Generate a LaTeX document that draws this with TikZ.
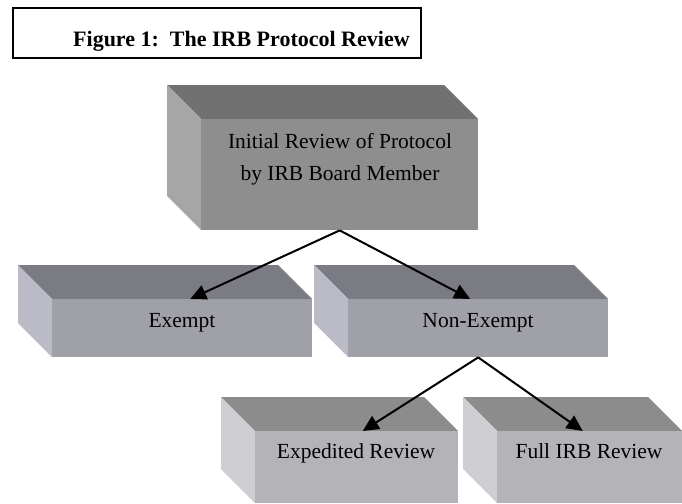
\documentclass[tikz,border=0pt]{standalone}
\usepackage{fontspec}
\setmainfont{Liberation Serif}
\usetikzlibrary{arrows.meta,positioning}

\definecolor{revtop}{HTML}{717171}
\definecolor{revside}{HTML}{A6A6A6}
\definecolor{revfront}{HTML}{8E8E8E}
\definecolor{midtop}{HTML}{7B7B84}
\definecolor{midside}{HTML}{BBBBC7}
\definecolor{midfront}{HTML}{A0A0A8}
\definecolor{lowtop}{HTML}{8C8C8C}
\definecolor{lowside}{HTML}{CDCDD2}
\definecolor{lowfront}{HTML}{B4B4B8}

\begin{document}
\begin{tikzpicture}[x=1pt,y=-1pt,
    face/.style={draw=none,inner sep=0pt,anchor=north west},
    boxtext/.style={inner sep=0pt,font=\fontsize{21.5}{32}\selectfont},
    flow/.style={line width=2pt,-{Triangle[length=16pt,width=15pt]}}]
  \useasboundingbox (0,0) rectangle (682,503);

  % caption
  \node[draw,line width=1.6pt,inner sep=0pt,anchor=north west,
        minimum width=408pt,minimum height=50pt] (titlebox) at (12,7) {};
  \node[inner sep=0pt,anchor=base west,font=\fontsize{22}{28}\selectfont\bfseries]
        (title) at (73,47) {Figure 1:\ \ The IRB Protocol Review};

  % blocks: name / front face corners / colours
  \foreach \n/\xa/\ya/\xb/\yb/\tc/\sc/\fc in {
      review/201/119/478/230/revtop/revside/revfront,
      exempt/52/299/312/357/midtop/midside/midfront,
      nonexempt/348/299/608/357/midtop/midside/midfront,
      expedited/255/431/458/503/lowtop/lowside/lowfront,
      fullirb/497/431/682/503/lowtop/lowside/lowfront} {
    \fill[\tc] (\xa,\ya) -- ++(-34,-34) -- (\xb-34,\ya-34) -- (\xb,\ya) -- cycle;
    \fill[\sc] (\xa,\ya) -- ++(-34,-34) -- ++(0,\yb-\ya) -- (\xa,\yb) -- cycle;
    \node[face,fill=\fc,minimum width=\xb-\xa,minimum height=\yb-\ya] (\n) at (\xa,\ya) {};
  }

  \node[boxtext,align=center] (reviewtxt) at (340,159)
        {Initial Review of Protocol\\by IRB Board Member};
  \node[boxtext,anchor=base] (exempttxt) at (182,327) {Exempt};
  \node[boxtext,anchor=base] (nonexempttxt) at (478,327) {Non-Exempt};
  \node[boxtext,anchor=base] (expeditedtxt) at (356,458) {Expedited Review};
  \node[boxtext,anchor=base] (fullirbtxt) at (589,458) {Full IRB Review};

  \draw[flow] (review.south) -- ([xshift=8pt]exempt.north);
  \draw[flow] (review.south) -- ([xshift=-8pt]nonexempt.north);
  \draw[flow] (nonexempt.south) -- ([xshift=6pt]expedited.north);
  \draw[flow] (nonexempt.south) -- ([xshift=-7pt]fullirb.north);
\end{tikzpicture}
\end{document}
